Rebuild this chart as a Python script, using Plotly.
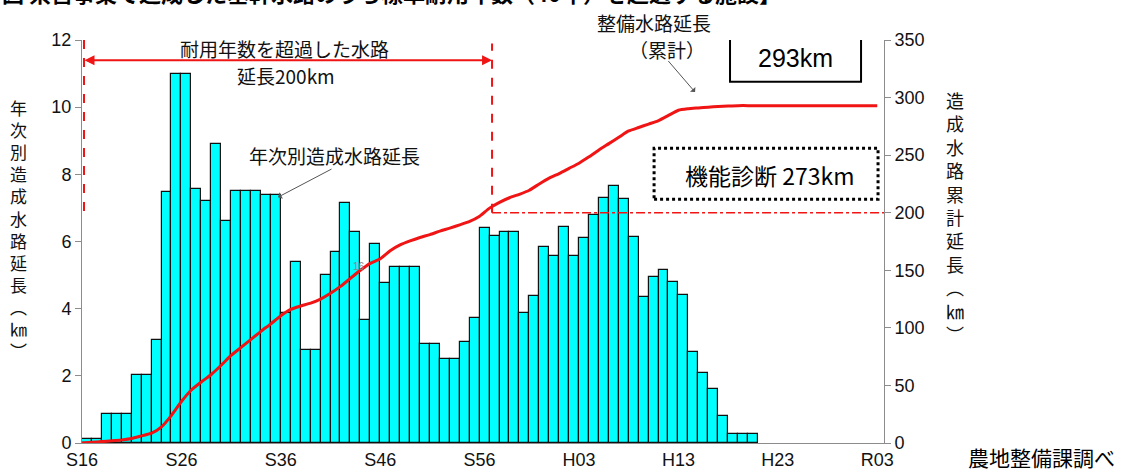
import plotly.graph_objects as go

# ---------------- data ----------------
tick_labels = ["S16", "S26", "S36", "S46", "S56", "H03", "H13", "H23", "R03"]
tick_index = [0, 10, 20, 30, 40, 50, 60, 70, 80]

# annual constructed canal length (km), S16 .. H20
annual_km = [0.12, 0.12, 0.87, 0.87, 0.87, 2.03, 2.03, 3.07, 7.47, 10.98,
             10.98, 7.56, 7.22, 8.9, 6.62, 7.49, 7.49, 7.49, 7.37, 7.37,
             3.88, 5.4, 2.78, 2.78, 5.0, 5.7, 7.14, 6.28, 3.67, 5.92,
             4.76, 5.23, 5.23, 5.23, 2.96, 2.96, 2.51, 2.51, 3.0, 3.72,
             6.4, 6.15, 6.28, 6.28, 3.87, 4.39, 5.85, 5.56, 6.42, 5.58,
             6.1, 6.8, 7.29, 7.66, 7.27, 6.13, 4.34, 4.93, 5.14, 4.78,
             4.41, 2.7, 2.08, 1.62, 0.79, 0.27, 0.27, 0.27]

# cumulative maintained canal length (km), S16 .. R03
cumulative_km = [0, 0.7, 1.2, 1.9, 2.7, 3.9, 6.2, 8.5, 14, 24,
                 36, 46, 53, 59.5, 67.5, 76, 83, 90, 97, 103.5,
                 110.5, 116, 119, 121.5, 125, 130, 136, 143, 150, 156,
                 160, 167, 172, 175.5, 178.5, 181, 184, 186.6, 189.5, 192.5,
                 197, 204, 209, 213, 216, 219.5, 225, 230, 234, 238.5,
                 243, 248.5, 254.5, 260, 265.5, 271, 274, 277, 280, 284.5,
                 289, 290.3, 291, 291.7, 292.3, 292.7, 293, 293, 293, 293,
                 293, 293, 293, 293, 293, 293, 293, 293, 293, 293, 293]

RED = "#f01414"
CJK = "Noto Sans CJK JP"
NUM = "Liberation Sans, Arial"
XMAX = 80.68

fig = go.Figure()
fig.add_trace(go.Bar(
    x=list(range(len(annual_km))), y=annual_km, width=1, offset=0,
    marker=dict(color="#00FFFF", line=dict(color="#111111", width=1.2)),
    yaxis="y", showlegend=False))
fig.add_trace(go.Scatter(
    x=list(range(len(cumulative_km))), y=cumulative_km, mode="lines",
    line=dict(color=RED, width=3, shape="spline", smoothing=0.6),
    yaxis="y2", showlegend=False))

axis_common = dict(showgrid=False, zeroline=False, showline=True,
                   linecolor="#8c8c8c", linewidth=1, automargin=False,
                   tickfont=dict(family=NUM, size=18, color="#111"))

fig.update_layout(
    width=1131, height=475,
    margin=dict(l=82, r=247, t=40, b=32, autoexpand=False),
    paper_bgcolor="white", plot_bgcolor="white",
    bargap=0,
    xaxis=dict(range=[0, XMAX], tickvals=tick_index, ticktext=tick_labels,
               ticks="", **axis_common),
    yaxis=dict(range=[0, 12], dtick=2, ticks="outside", ticklen=6,
               tickcolor="#8c8c8c", **axis_common),
    yaxis2=dict(range=[0, 350], dtick=50, overlaying="y", side="right",
                ticks="outside", ticklen=6, tickcolor="#8c8c8c", **axis_common),
)

shapes = [
    dict(type="line", xref="x", yref="y", x0=0.2, x1=0.2, y0=12, y1=6.86,
         line=dict(color=RED, width=2, dash="dash")),
    dict(type="line", xref="x", yref="y2", x0=41.25, x1=41.25, y0=200, y1=347,
         line=dict(color=RED, width=2, dash="dash")),
    dict(type="line", xref="x", yref="y2", x0=41.25, x1=XMAX, y0=200, y1=200,
         line=dict(color=RED, width=1.5, dash="dashdot")),
    dict(type="rect", xref="x", yref="y", x0=65.19, x1=78.37, y0=10.76, y1=12.15,
         line=dict(color="black", width=2), fillcolor="white"),
    dict(type="rect", xref="x", yref="y", x0=57.55, x1=80.08, y0=7.26, y1=8.78,
         line=dict(color="black", width=3, dash="dot"), fillcolor="rgba(0,0,0,0)"),
]
fig.update_layout(shapes=shapes)


def txt(x, y, text, size, family=CJK, color="#111", ref="data"):
    r = ("x", "y") if ref == "data" else ("paper", "paper")
    return dict(xref=r[0], yref=r[1], x=x, y=y, xanchor="center", yanchor="middle",
                showarrow=False, text=text, font=dict(family=family, size=size, color=color))


ann = []
# title (cut off at the top in the original)
ann.append(dict(xref="paper", yref="paper", x=-0.1022, y=1.118,
                xanchor="left", yanchor="middle", showarrow=False,
                text="<b>図 県営事業で造成した基幹水路のうち標準耐用年数（40年）を超過する施設】</b>",
                font=dict(family=CJK, size=22, color="black")))
ann.append(txt(20.42, 11.74, "耐用年数を超過した水路", 19))
ann.append(txt(20.52, 10.95, "延長200km", 19))
# double red arrow
ann.append(dict(xref="x", yref="y", axref="x", ayref="y",
                x=41.25, y=11.4, ax=0.1, ay=11.4, text="", showarrow=True,
                arrowside="end+start", arrowhead=2, startarrowhead=2,
                arrowsize=1, startarrowsize=1, arrowwidth=2, arrowcolor=RED))
ann.append(txt(25.4, 8.57, "年次別造成水路延長", 19))
ann.append(dict(xref="x", yref="y", axref="x", ayref="y",
                x=19.72, y=7.32, ax=25.25, ay=8.18, text="", showarrow=True,
                arrowhead=1, arrowsize=1.2, arrowwidth=1, arrowcolor="#555"))
ann.append(txt(0.713, 1.044, "整備水路延長", 19, ref="paper"))
ann.append(txt(58.85, 11.73, "（累計）", 19))
ann.append(dict(xref="x", yref="y", axref="x", ayref="y",
                x=61.67, y=10.45, ax=58.85, ay=11.42, text="", showarrow=True,
                arrowhead=1, arrowsize=1.2, arrowwidth=1, arrowcolor="#555"))
ann.append(txt(71.73, 11.47, "293km", 25, family=NUM, color="black"))
ann.append(txt(69.2, 7.98, "機能診断 273km", 23, color="black"))
ann.append(txt(27.87, 5.27, "16", 10, family=NUM, color="#888"))
ann.append(txt(1.196, -0.035, "農地整備課調べ", 21, color="black", ref="paper"))
ann.append(txt(-0.0786, 0.53,
               "<br>".join(list("年次別造成水路延長") + ["︵", "㎞", "︶"]), 17, ref="paper"))
ann.append(txt(1.0885, 0.56,
               "<br>".join(list("造成水路累計延長") + ["︵", "㎞", "︶"]), 18, ref="paper"))
fig.update_layout(annotations=ann)

fig.write_html("out.html")
